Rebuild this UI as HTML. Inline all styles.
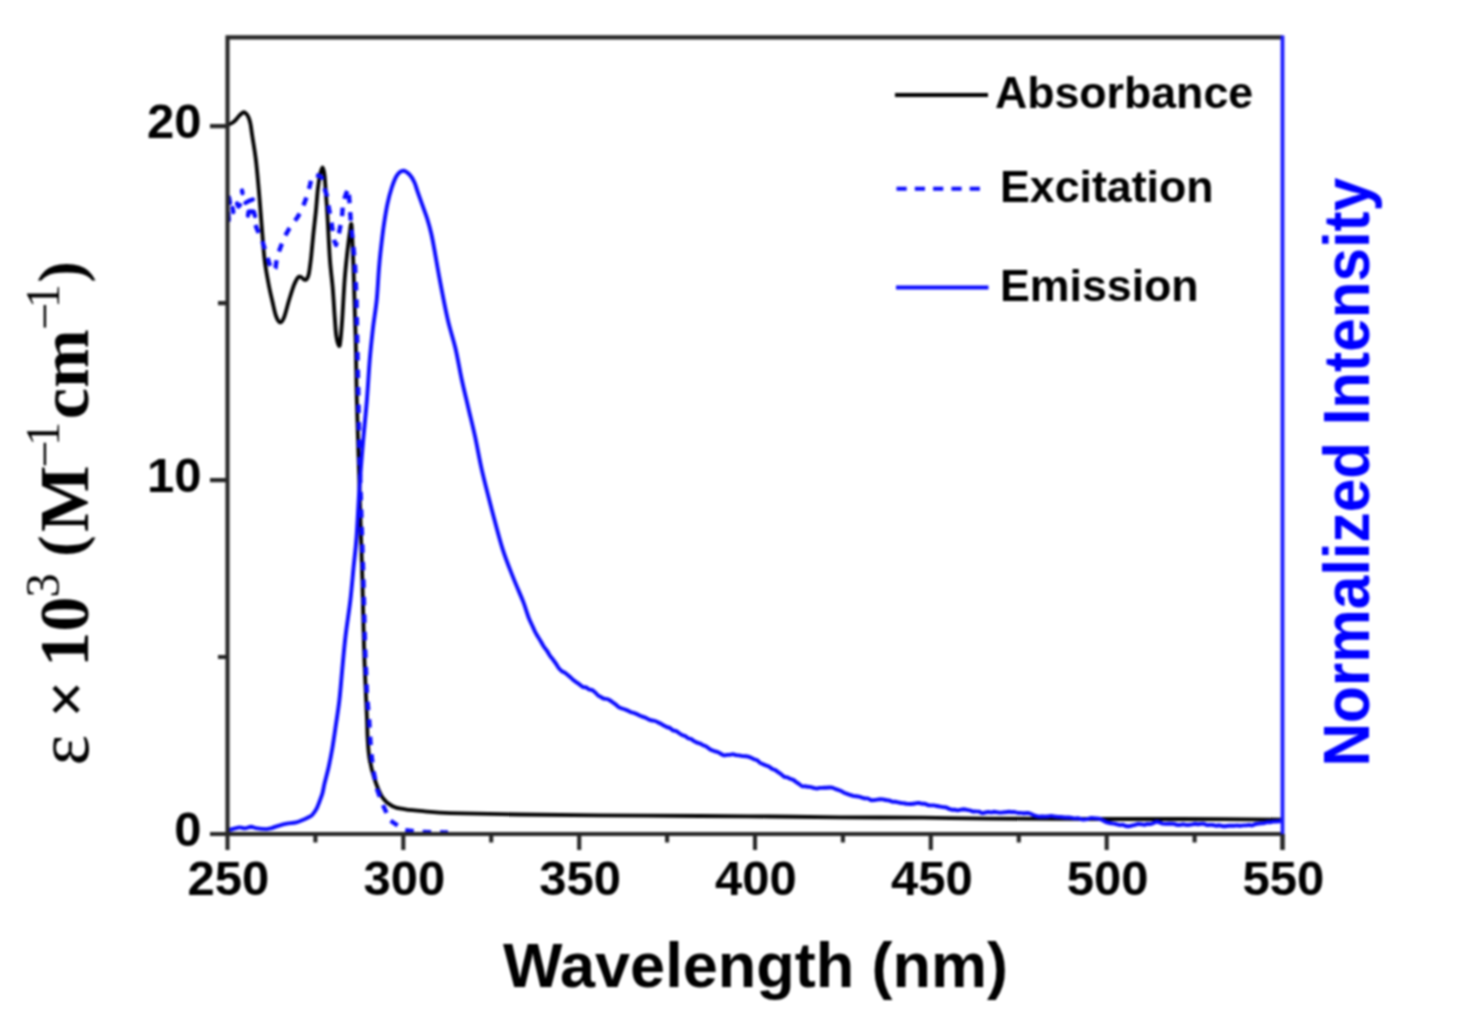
<!DOCTYPE html>
<html><head><meta charset="utf-8"><style>
html,body{margin:0;padding:0;background:#fff;width:1457px;height:1014px;overflow:hidden}
svg{display:block;filter:blur(1.1px)}
.sans{font-family:"Liberation Sans",sans-serif;font-weight:bold}
.serif{font-family:"Liberation Serif",serif}
</style></head><body>
<svg width="1457" height="1014" viewBox="0 0 1457 1014">
<rect width="1457" height="1014" fill="#fff"/>
<g fill="none" stroke-linejoin="round">
<path d="M227.5,125.0 C228.2,124.7 230.7,123.8 232.0,123.0 C233.3,122.2 234.4,121.3 235.6,120.1 C236.8,118.9 237.7,117.3 239.0,116.0 C240.3,114.7 242.1,112.6 243.3,112.3 C244.6,112.0 245.6,113.1 246.5,114.0 C247.4,114.9 248.0,116.1 248.7,117.8 C249.4,119.5 249.9,121.0 250.5,124.0 C251.1,127.0 251.3,129.6 252.2,135.5 C253.1,141.4 254.7,150.3 255.8,159.2 C256.9,168.1 257.8,179.0 258.7,188.8 C259.6,198.7 260.2,206.8 261.1,218.3 C262.1,229.8 263.2,247.2 264.4,258.0 C265.6,268.8 267.1,275.8 268.4,283.0 C269.7,290.2 271.0,295.5 272.3,301.0 C273.6,306.5 274.7,312.4 276.0,316.0 C277.3,319.6 278.9,322.1 280.2,322.3 C281.5,322.6 282.5,321.2 284.0,317.5 C285.5,313.8 287.4,305.4 289.1,300.0 C290.8,294.6 292.5,288.8 294.0,285.0 C295.5,281.2 296.8,278.8 298.0,277.5 C299.2,276.2 300.0,276.7 301.0,277.0 C302.0,277.3 303.0,279.1 303.9,279.5 C304.8,279.9 305.7,280.4 306.5,279.5 C307.3,278.6 308.1,277.2 308.8,274.0 C309.5,270.8 310.2,264.8 310.8,260.0 C311.4,255.2 311.8,250.0 312.3,245.0 C312.8,240.0 313.2,235.5 313.8,230.0 C314.4,224.5 315.1,218.8 315.8,212.0 C316.5,205.2 317.1,195.6 317.8,189.4 C318.5,183.2 319.2,178.7 320.0,175.0 C320.8,171.3 321.8,167.5 322.5,167.5 C323.2,167.5 324.0,171.3 324.5,175.0 C325.0,178.7 325.1,182.7 325.6,189.4 C326.1,196.1 326.7,203.3 327.4,215.0 C328.1,226.7 329.0,247.1 329.9,259.4 C330.8,271.7 332.0,279.2 332.8,289.0 C333.6,298.8 334.2,310.2 334.8,318.0 C335.4,325.8 335.6,331.3 336.3,336.0 C337.0,340.7 338.5,345.7 339.2,346.0 C339.9,346.3 340.2,342.4 340.7,338.0 C341.2,333.6 341.5,329.5 342.2,319.7 C342.9,309.9 343.8,290.9 344.7,279.2 C345.6,267.5 346.7,257.8 347.6,249.6 C348.5,241.4 349.5,234.2 350.1,229.9 C350.7,225.6 350.7,224.0 351.0,224.0 C351.3,224.0 351.5,222.3 351.9,229.9 C352.3,237.5 353.0,254.5 353.5,269.3 C354.0,284.1 354.6,306.0 355.0,318.6 C355.4,331.2 355.5,331.4 355.8,345.0 C356.1,358.6 356.3,381.0 356.8,400.0 C357.3,419.0 358.0,439.5 358.6,459.2 C359.2,478.9 359.8,498.6 360.4,518.3 C361.0,538.0 361.7,556.0 362.3,577.5 C362.9,599.0 363.4,627.8 364.0,647.3 C364.6,666.8 365.4,682.6 365.9,694.7 C366.4,706.8 366.7,712.8 367.0,720.0 C367.3,727.2 367.2,731.5 367.6,738.0 C368.0,744.5 368.3,751.8 369.5,758.7 C370.7,765.6 372.5,772.8 374.6,779.2 C376.7,785.6 379.3,792.7 382.3,797.2 C385.3,801.7 388.8,804.2 392.6,806.2 C396.5,808.2 400.1,808.5 405.4,809.4 C410.7,810.2 417.2,810.7 424.6,811.3 C432.0,811.9 434.1,812.7 450.0,813.2 C465.9,813.7 495.0,814.1 520.0,814.5 C545.0,814.9 570.0,815.0 600.0,815.3 C630.0,815.5 671.7,815.8 700.0,816.0 C728.3,816.2 746.7,816.3 770.0,816.5 C793.3,816.7 814.5,817.1 840.0,817.3 C865.5,817.5 898.0,817.5 923.0,817.7 C948.0,817.9 960.5,818.4 990.0,818.6 C1019.5,818.8 1068.3,818.9 1100.0,819.0 C1131.7,819.1 1149.7,818.9 1180.0,819.0 C1210.3,819.1 1265.0,819.5 1282.0,819.6" stroke="#000" stroke-width="3.8"/>
<path d="M227.5,830.5 C228.4,830.2 230.9,829.5 233.0,829.0 C235.1,828.5 237.8,827.5 239.8,827.4 C241.8,827.3 243.0,828.5 244.9,828.4 C246.8,828.3 249.3,826.8 251.1,826.7 C252.9,826.7 253.4,827.7 255.9,828.1 C258.4,828.5 263.6,829.1 266.2,829.1 C268.8,829.1 269.4,828.7 271.7,828.1 C274.0,827.5 277.4,826.0 279.9,825.3 C282.4,824.5 284.1,824.1 286.8,823.6 C289.6,823.1 293.5,823.1 296.4,822.4 C299.2,821.7 301.8,820.4 303.9,819.5 C306.0,818.6 307.6,817.8 309.0,817.0 C310.4,816.2 311.0,816.3 312.2,815.0 C313.4,813.7 315.1,811.5 316.3,809.2 C317.6,806.9 318.7,803.7 319.7,801.0 C320.7,798.3 321.7,796.0 322.5,793.0 C323.3,790.0 323.6,787.3 324.6,783.1 C325.6,778.9 327.2,773.5 328.5,767.7 C329.8,761.9 331.0,756.0 332.3,748.5 C333.6,741.0 335.0,730.9 336.2,722.8 C337.4,714.7 338.4,708.6 339.4,700.0 C340.4,691.4 341.1,681.8 342.1,671.0 C343.1,660.2 344.2,647.3 345.6,635.5 C347.0,623.7 349.1,611.2 350.4,600.0 C351.7,588.8 352.5,578.3 353.5,568.0 C354.5,557.7 355.5,551.2 356.5,538.0 C357.5,524.8 358.4,503.6 359.4,488.8 C360.4,474.0 361.1,464.1 362.4,449.3 C363.6,434.5 365.7,415.0 366.9,400.0 C368.1,385.0 368.8,370.9 369.8,359.2 C370.8,347.5 371.7,339.5 372.8,329.6 C373.9,319.7 375.7,310.1 376.7,300.0 C377.7,289.9 378.2,278.1 378.9,269.3 C379.6,260.5 380.2,254.6 381.1,247.0 C382.0,239.4 382.9,231.1 384.0,224.0 C385.1,216.9 386.1,210.3 387.4,204.2 C388.7,198.1 390.2,192.3 391.8,187.5 C393.4,182.7 394.9,178.4 396.8,175.6 C398.7,172.8 401.1,170.8 403.2,170.7 C405.3,170.5 407.7,172.7 409.6,174.7 C411.5,176.7 413.2,179.7 414.5,182.5 C415.8,185.3 416.2,187.6 417.5,191.4 C418.8,195.2 420.8,200.6 422.4,205.2 C424.0,209.8 425.8,214.2 427.3,219.0 C428.8,223.8 430.2,228.9 431.3,233.8 C432.4,238.7 432.8,241.0 434.2,248.6 C435.6,256.2 437.5,267.7 439.7,279.4 C441.9,291.1 445.0,307.4 447.6,318.9 C450.2,330.4 453.2,338.6 455.5,348.5 C457.8,358.4 459.3,368.1 461.4,378.0 C463.5,387.9 466.0,397.8 468.3,407.7 C470.6,417.6 473.0,426.9 475.2,437.2 C477.4,447.5 479.0,457.4 481.7,469.4 C484.4,481.3 488.2,495.8 491.6,508.9 C495.1,522.0 498.8,536.8 502.4,548.3 C506.0,559.8 509.8,569.0 513.3,577.9 C516.8,586.8 521.0,596.0 523.1,601.4 C525.2,606.8 525.1,607.2 526.1,610.1 C527.1,613.0 528.1,616.3 529.1,618.8 C530.1,621.3 531.1,623.0 532.1,625.2 C533.1,627.3 534.1,629.9 535.1,631.9 C536.1,633.9 537.1,635.3 538.1,637.0 C539.1,638.6 540.1,640.2 541.1,641.9 C542.1,643.5 543.1,645.5 544.1,647.0 C545.1,648.5 546.1,649.5 547.1,651.0 C548.1,652.4 549.1,654.4 550.1,655.8 C551.1,657.3 552.1,658.3 553.1,659.7 C554.1,661.0 555.1,662.4 556.1,663.9 C557.1,665.4 558.1,667.2 559.1,668.5 C560.1,669.7 561.1,670.7 562.1,671.4 C563.1,672.1 564.1,672.2 565.1,672.8 C566.1,673.5 567.1,674.4 568.1,675.2 C569.1,676.0 570.1,677.0 571.1,677.9 C572.1,678.8 573.1,679.9 574.1,680.6 C575.1,681.4 576.1,682.0 577.1,682.7 C578.1,683.4 579.1,684.1 580.1,684.9 C581.1,685.6 582.1,686.7 583.1,687.1 C584.1,687.6 585.1,687.0 586.1,687.4 C587.1,687.8 588.1,689.0 589.1,689.5 C590.1,689.9 591.1,689.6 592.1,690.1 C593.1,690.6 594.1,691.5 595.1,692.4 C596.1,693.3 597.1,694.6 598.1,695.4 C599.1,696.2 600.1,696.6 601.1,697.1 C602.1,697.7 603.1,698.4 604.1,698.7 C605.1,699.0 606.1,698.7 607.1,699.0 C608.1,699.3 609.1,699.9 610.1,700.5 C611.1,701.1 612.1,702.0 613.1,702.7 C614.1,703.4 615.1,704.0 616.1,704.8 C617.1,705.5 618.1,706.7 619.1,707.4 C620.1,708.0 621.1,708.2 622.1,708.5 C623.1,708.9 624.1,709.1 625.1,709.5 C626.1,709.9 627.1,710.2 628.1,710.7 C629.1,711.1 630.1,711.8 631.1,712.2 C632.1,712.6 633.1,712.7 634.1,713.0 C635.1,713.4 636.1,713.7 637.1,714.2 C638.1,714.7 639.1,715.3 640.1,715.8 C641.1,716.2 642.1,716.5 643.1,716.9 C644.1,717.3 645.1,717.6 646.1,718.0 C647.1,718.5 648.1,719.2 649.1,719.6 C650.1,720.0 651.1,720.3 652.1,720.5 C653.1,720.7 654.1,720.7 655.1,721.0 C656.1,721.3 657.1,721.9 658.1,722.4 C659.1,722.9 660.1,723.3 661.1,723.8 C662.1,724.4 663.1,725.2 664.1,725.7 C665.1,726.3 666.1,726.7 667.1,727.1 C668.1,727.5 669.1,727.6 670.1,728.1 C671.1,728.7 672.1,729.9 673.1,730.4 C674.1,730.9 675.1,730.6 676.1,731.1 C677.1,731.5 678.1,732.4 679.1,733.1 C680.1,733.7 681.1,734.6 682.1,735.1 C683.1,735.6 684.1,735.6 685.1,736.1 C686.1,736.6 687.1,737.6 688.1,738.2 C689.1,738.7 690.1,738.6 691.1,739.1 C692.1,739.6 693.1,740.6 694.1,741.1 C695.1,741.7 696.1,742.1 697.1,742.6 C698.1,743.0 699.1,743.2 700.1,743.6 C701.1,744.1 702.1,744.8 703.1,745.3 C704.1,745.7 705.1,745.9 706.1,746.4 C707.1,747.0 708.1,748.0 709.1,748.6 C710.1,749.3 711.1,749.9 712.1,750.3 C713.1,750.8 714.1,751.1 715.1,751.4 C716.1,751.7 717.1,751.9 718.1,752.3 C719.1,752.7 720.1,753.4 721.1,753.9 C722.1,754.4 723.1,755.2 724.1,755.4 C725.1,755.5 726.1,755.0 727.1,754.9 C728.1,754.9 729.1,755.0 730.1,754.8 C731.1,754.7 732.1,754.1 733.1,754.2 C734.1,754.2 735.1,755.0 736.1,755.2 C737.1,755.4 738.1,755.3 739.1,755.4 C740.1,755.6 741.1,756.0 742.1,756.1 C743.1,756.2 744.1,756.1 745.1,756.2 C746.1,756.3 747.1,756.3 748.1,756.6 C749.1,756.9 750.1,757.4 751.1,757.8 C752.1,758.2 753.1,758.8 754.1,759.2 C755.1,759.6 756.1,759.6 757.1,760.2 C758.1,760.8 759.1,762.1 760.1,762.8 C761.1,763.4 762.1,763.8 763.1,764.3 C764.1,764.7 765.1,765.1 766.1,765.5 C767.1,765.9 768.1,766.1 769.1,766.7 C770.1,767.2 771.1,768.2 772.1,768.8 C773.1,769.4 774.1,769.5 775.1,770.0 C776.1,770.6 777.1,771.4 778.1,772.1 C779.1,772.8 780.1,773.5 781.1,774.2 C782.1,775.0 783.1,776.2 784.1,776.7 C785.1,777.2 786.1,777.0 787.1,777.3 C788.1,777.7 789.1,778.3 790.1,778.7 C791.1,779.1 792.1,779.2 793.1,779.8 C794.1,780.3 795.1,781.3 796.1,782.0 C797.1,782.7 798.1,783.3 799.1,784.0 C800.1,784.7 801.1,785.8 802.1,786.2 C803.1,786.6 804.1,786.2 805.1,786.3 C806.1,786.4 807.1,786.7 808.1,786.8 C809.1,786.9 810.1,786.9 811.1,787.1 C812.1,787.3 813.1,787.8 814.1,788.0 C815.1,788.3 816.1,788.5 817.1,788.5 C818.1,788.4 819.1,788.0 820.1,787.9 C821.1,787.8 822.1,787.8 823.1,787.8 C824.1,787.7 825.1,787.7 826.1,787.7 C827.1,787.6 828.1,787.5 829.1,787.5 C830.1,787.5 831.1,787.4 832.1,787.6 C833.1,787.8 834.1,788.5 835.1,788.9 C836.1,789.3 837.1,789.5 838.1,789.9 C839.1,790.2 840.1,790.5 841.1,791.0 C842.1,791.5 843.1,792.3 844.1,792.8 C845.1,793.3 846.1,793.6 847.1,793.9 C848.1,794.3 849.1,794.5 850.1,794.8 C851.1,795.1 852.1,795.6 853.1,795.9 C854.1,796.1 855.1,796.1 856.1,796.2 C857.1,796.4 858.1,796.5 859.1,796.7 C860.1,796.9 861.1,797.3 862.1,797.6 C863.1,797.9 864.1,798.3 865.1,798.4 C866.1,798.6 867.1,798.2 868.1,798.5 C869.1,798.8 870.1,799.9 871.1,800.2 C872.1,800.4 873.1,800.2 874.1,800.1 C875.1,800.0 876.1,799.7 877.1,799.6 C878.1,799.4 879.1,799.2 880.1,799.2 C881.1,799.2 882.1,799.3 883.1,799.4 C884.1,799.6 885.1,799.9 886.1,800.1 C887.1,800.3 888.1,800.2 889.1,800.5 C890.1,800.7 891.1,801.5 892.1,801.7 C893.1,802.0 894.1,801.7 895.1,801.8 C896.1,801.9 897.1,802.2 898.1,802.4 C899.1,802.6 900.1,802.8 901.1,803.0 C902.1,803.1 903.1,803.2 904.1,803.3 C905.1,803.5 906.1,803.8 907.1,803.9 C908.1,804.0 909.1,804.0 910.1,804.0 C911.1,804.0 912.1,803.9 913.1,803.8 C914.1,803.7 915.1,803.3 916.1,803.2 C917.1,803.0 918.1,802.9 919.1,803.0 C920.1,803.1 921.1,803.6 922.1,803.7 C923.1,803.9 924.1,803.6 925.1,803.8 C926.1,804.1 927.1,804.9 928.1,805.2 C929.1,805.5 930.1,805.4 931.1,805.4 C932.1,805.4 933.1,805.3 934.1,805.4 C935.1,805.5 936.1,805.8 937.1,806.0 C938.1,806.2 939.1,806.4 940.1,806.6 C941.1,806.8 942.1,807.0 943.1,807.1 C944.1,807.3 945.1,807.2 946.1,807.4 C947.1,807.7 948.1,808.5 949.1,808.9 C950.1,809.3 951.1,809.6 952.1,809.7 C953.1,809.9 954.1,809.7 955.1,809.8 C956.1,809.9 957.1,810.4 958.1,810.4 C959.1,810.3 960.1,809.8 961.1,809.6 C962.1,809.5 963.1,809.3 964.1,809.3 C965.1,809.4 966.1,809.7 967.1,809.9 C968.1,810.1 969.1,810.1 970.1,810.4 C971.1,810.6 972.1,811.4 973.1,811.5 C974.1,811.7 975.1,811.3 976.1,811.4 C977.1,811.4 978.1,811.5 979.1,811.7 C980.1,812.0 981.1,812.9 982.1,813.1 C983.1,813.2 984.1,812.7 985.1,812.5 C986.1,812.3 987.1,812.0 988.1,812.0 C989.1,812.0 990.1,812.4 991.1,812.4 C992.1,812.3 993.1,811.8 994.1,811.7 C995.1,811.7 996.1,812.0 997.1,812.2 C998.1,812.3 999.1,812.6 1000.1,812.6 C1001.1,812.6 1002.1,812.5 1003.1,812.4 C1004.1,812.3 1005.1,812.2 1006.1,812.1 C1007.1,812.0 1008.1,811.8 1009.1,811.8 C1010.1,811.8 1011.1,812.0 1012.1,812.1 C1013.1,812.1 1014.1,811.9 1015.1,812.1 C1016.1,812.2 1017.1,812.8 1018.1,812.9 C1019.1,813.1 1020.1,812.8 1021.1,812.9 C1022.1,812.9 1023.1,813.3 1024.1,813.3 C1025.1,813.4 1026.1,813.0 1027.1,813.0 C1028.1,813.0 1029.1,813.1 1030.1,813.5 C1031.1,813.8 1032.1,814.5 1033.1,815.0 C1034.1,815.4 1035.1,815.8 1036.1,816.0 C1037.1,816.3 1038.1,816.5 1039.1,816.6 C1040.1,816.7 1041.1,816.5 1042.1,816.5 C1043.1,816.5 1044.1,816.6 1045.1,816.6 C1046.1,816.5 1047.1,816.6 1048.1,816.5 C1049.1,816.4 1050.1,815.9 1051.1,815.9 C1052.1,815.9 1053.1,816.3 1054.1,816.4 C1055.1,816.6 1056.1,816.7 1057.1,816.8 C1058.1,816.8 1059.1,816.8 1060.1,816.9 C1061.1,817.0 1062.1,817.1 1063.1,817.2 C1064.1,817.3 1065.1,817.4 1066.1,817.5 C1067.1,817.5 1068.1,817.4 1069.1,817.4 C1070.1,817.5 1071.1,817.7 1072.1,817.9 C1073.1,818.1 1074.1,818.4 1075.1,818.4 C1076.1,818.5 1077.1,818.1 1078.1,818.2 C1079.1,818.4 1080.1,818.9 1081.1,819.1 C1082.1,819.4 1083.1,819.6 1084.1,819.6 C1085.1,819.6 1086.1,819.5 1087.1,819.2 C1088.1,818.9 1089.1,818.2 1090.1,818.1 C1091.1,817.9 1092.1,818.1 1093.1,818.1 C1094.1,818.2 1095.1,818.3 1096.1,818.4 C1097.1,818.5 1098.1,818.5 1099.1,818.7 C1100.1,819.0 1101.1,819.4 1102.1,819.9 C1103.1,820.4 1104.1,821.1 1105.1,821.6 C1106.1,822.0 1107.1,822.4 1108.1,822.7 C1109.1,823.0 1110.1,823.2 1111.1,823.3 C1112.1,823.4 1113.1,823.4 1114.1,823.6 C1115.1,823.7 1116.1,824.1 1117.1,824.4 C1118.1,824.6 1119.1,825.0 1120.1,825.1 C1121.1,825.1 1122.1,824.7 1123.1,824.8 C1124.1,825.0 1125.1,825.8 1126.1,826.0 C1127.1,826.2 1128.1,826.3 1129.1,826.2 C1130.1,826.2 1131.1,825.7 1132.1,825.5 C1133.1,825.2 1134.1,825.1 1135.1,824.8 C1136.1,824.6 1137.1,824.1 1138.1,824.0 C1139.1,823.9 1140.1,824.1 1141.1,824.2 C1142.1,824.3 1143.1,824.8 1144.1,824.8 C1145.1,824.8 1146.1,824.1 1147.1,824.0 C1148.1,823.9 1149.1,824.2 1150.1,824.1 C1151.1,823.9 1152.1,823.7 1153.1,823.3 C1154.1,822.9 1155.1,822.0 1156.1,821.8 C1157.1,821.6 1158.1,822.0 1159.1,822.3 C1160.1,822.6 1161.1,823.3 1162.1,823.5 C1163.1,823.8 1164.1,823.9 1165.1,823.9 C1166.1,824.0 1167.1,823.7 1168.1,823.7 C1169.1,823.7 1170.1,823.7 1171.1,823.8 C1172.1,823.8 1173.1,823.7 1174.1,823.9 C1175.1,824.1 1176.1,824.7 1177.1,824.9 C1178.1,825.0 1179.1,825.0 1180.1,824.9 C1181.1,824.8 1182.1,824.3 1183.1,824.3 C1184.1,824.3 1185.1,824.8 1186.1,824.9 C1187.1,825.0 1188.1,825.0 1189.1,824.9 C1190.1,824.8 1191.1,824.5 1192.1,824.4 C1193.1,824.2 1194.1,823.9 1195.1,823.8 C1196.1,823.8 1197.1,824.2 1198.1,824.2 C1199.1,824.2 1200.1,823.9 1201.1,823.9 C1202.1,823.8 1203.1,823.7 1204.1,823.9 C1205.1,824.1 1206.1,824.9 1207.1,825.1 C1208.1,825.3 1209.1,824.9 1210.1,824.9 C1211.1,824.9 1212.1,824.9 1213.1,825.0 C1214.1,825.1 1215.1,825.6 1216.1,825.7 C1217.1,825.7 1218.1,825.3 1219.1,825.3 C1220.1,825.4 1221.1,825.9 1222.1,826.0 C1223.1,826.2 1224.1,826.3 1225.1,826.2 C1226.1,826.2 1227.1,825.8 1228.1,825.8 C1229.1,825.7 1230.1,825.8 1231.1,825.7 C1232.1,825.7 1233.1,825.7 1234.1,825.7 C1235.1,825.7 1236.1,825.5 1237.1,825.5 C1238.1,825.6 1239.1,825.8 1240.1,825.8 C1241.1,825.8 1242.1,825.4 1243.1,825.4 C1244.1,825.3 1245.1,825.5 1246.1,825.4 C1247.1,825.4 1248.1,825.0 1249.1,825.0 C1250.1,825.0 1251.1,825.6 1252.1,825.4 C1253.1,825.3 1254.1,824.5 1255.1,824.2 C1256.1,823.8 1257.1,823.8 1258.1,823.6 C1259.1,823.4 1260.1,823.3 1261.1,823.2 C1262.1,823.1 1263.1,823.3 1264.1,823.1 C1265.1,822.9 1266.1,822.3 1267.1,822.2 C1268.1,822.0 1269.1,822.4 1270.1,822.3 C1271.1,822.2 1272.1,821.8 1273.1,821.6 C1274.1,821.5 1275.1,821.5 1276.1,821.5 C1277.1,821.4 1278.2,821.3 1279.1,821.3 C1280.0,821.2 1281.1,821.1 1281.5,821.1" stroke="#0a0aff" stroke-width="3.9"/>
<path d="M255.5,225.0 L257.0,229.0 L262.0,240.0 L266.0,253.0 L269.5,264.0 L273.5,271.0 L275.5,268.0 L277.0,257.0 L281.0,246.0 L285.0,236.0 L289.0,229.0 L293.0,223.0 L297.0,218.0 L300.0,213.0 L304.0,204.0 L307.0,196.0 L310.0,185.0 L312.0,176.0 L316.0,175.0 L320.0,176.0 L322.0,178.0 L325.0,190.0 L327.0,196.0 L329.0,209.0 L331.0,219.0 L332.0,226.0 L334.0,240.0 L336.0,245.0 L339.0,233.0 L342.0,218.0 L343.0,203.0 L346.0,194.0 L348.5,188.5 L350.0,209.0 L351.0,225.0 L353.0,242.0 L355.0,265.0 L356.5,300.0 L357.2,340.0 L358.0,380.0 L359.6,460.0 L361.5,520.0 L363.4,580.0 L365.0,647.0 L367.0,695.0 L369.3,722.0 L370.8,748.5 L373.3,770.3 L377.2,789.5 L382.3,803.6 L390.0,820.3 L404.1,829.9 L418.2,831.8 L443.8,832.4 L448.0,832.5" stroke="#0a0aff" stroke-width="4.4" stroke-dasharray="8.5 9" stroke-dashoffset="0"/>
<path d="M229,197.5 L230,203 M228.2,213 L228.8,220 M232.5,208 L233.3,212 M242,190.6 L242.5,193.2 M237,203.5 L238.5,206.5 L240,205 M245.5,202.8 L249,200.8 L252.8,199.5 M248,215.5 L248.6,211.8 L251,211.5 L253.8,211.8 L255,216" stroke="#0a0aff" stroke-width="4.4" stroke-linecap="round"/>
</g>
<g fill="none" stroke="#262626" stroke-width="4.1">
<path d="M227.5,834.0 V37.4 H1282.5"/>
<path d="M225.9,834.0 H1282.5"/>
<path d="M227.5,834.0 V850.0 M315.4,834.0 V842.5 M403.3,834.0 V850.0 M491.2,834.0 V842.5 M579.2,834.0 V850.0 M667.1,834.0 V842.5 M755.0,834.0 V850.0 M842.9,834.0 V842.5 M930.8,834.0 V850.0 M1018.8,834.0 V842.5 M1106.7,834.0 V850.0 M1194.6,834.0 V842.5 M1282.5,834.0 V850.0 M227.5,834.0 H210.0 M227.5,657.0 H218.0 M227.5,480.1 H210.0 M227.5,303.1 H218.0 M227.5,126.1 H210.0"/>
</g>
<path d="M1282.5,35.6 V835.8" stroke="#1a1aff" stroke-width="3.8"/>
<path d="M1282.5,834.0 V850.0" stroke="#262626" stroke-width="4.1"/>
<g class="sans" font-size="49" fill="#000">
<text x="228.5" y="895" text-anchor="middle" font-size="49">250</text><text x="404.3" y="895" text-anchor="middle" font-size="49">300</text><text x="580.2" y="895" text-anchor="middle" font-size="49">350</text><text x="756.0" y="895" text-anchor="middle" font-size="49">400</text><text x="931.8" y="895" text-anchor="middle" font-size="49">450</text><text x="1107.7" y="895" text-anchor="middle" font-size="49">500</text><text x="1283.5" y="895" text-anchor="middle" font-size="49">550</text>
<text x="201.5" y="846.4" text-anchor="end" font-size="49">0</text><text x="201.5" y="491.6" text-anchor="end" font-size="49">10</text><text x="201.5" y="137.6" text-anchor="end" font-size="49">20</text>
</g>
<text class="sans" x="755.5" y="987" font-size="63" text-anchor="middle" fill="#000">Wavelength (nm)</text>
<g fill="none" stroke-width="3.2">
<path d="M895,95 H988" stroke="#000" stroke-width="3.8"/>
<path d="M896.5,188.7 H981" stroke="#0a0aff" stroke-width="4" stroke-dasharray="10.2 8.1"/>
<path d="M896,287.5 H988.5" stroke="#0a0aff" stroke-width="3.8"/>
</g>
<g class="sans" font-size="44.7" fill="#000">
<text x="994.9" y="108" transform="translate(0,108) scale(1,0.975) translate(0,-108)">Absorbance</text>
<text x="1000" y="201.6">Excitation</text>
<text x="1000" y="300.8">Emission</text>
</g>
<g transform="translate(1368.5,762.3) rotate(-90) scale(1,1.09)">
<text class="sans" x="-4.2" y="0" font-size="60.2" fill="#0000ff">Normalized Intensity</text>
</g>
<g transform="translate(88,762.5) rotate(-90)" class="serif" fill="#000">
<text font-size="73" x="-2.9" y="0">ε</text>
<text font-weight="bold" font-size="66" x="44.4" y="0">×</text>
<text font-weight="bold" font-size="70.5" x="95.6" y="0">10</text>
<text font-size="48.5" x="165" y="-29.1">3</text>
<text font-weight="bold" font-size="64" x="205.8" y="-6.5">(</text>
<text font-weight="bold" font-size="70.5" x="230.6" y="0">M</text>
<text font-size="48.5" x="294.7" y="-27.2">−</text>
<text font-size="48.5" x="316.4" y="-29.5">1</text>
<text font-weight="bold" font-size="70.5" x="343.2" y="0">cm</text>
<text font-size="48.5" x="432.5" y="-27.2">−</text>
<text font-size="48.5" x="454.2" y="-29.5">1</text>
<text font-weight="bold" font-size="64" x="480" y="-6.5">)</text>
</g>
</svg>
</body></html>
